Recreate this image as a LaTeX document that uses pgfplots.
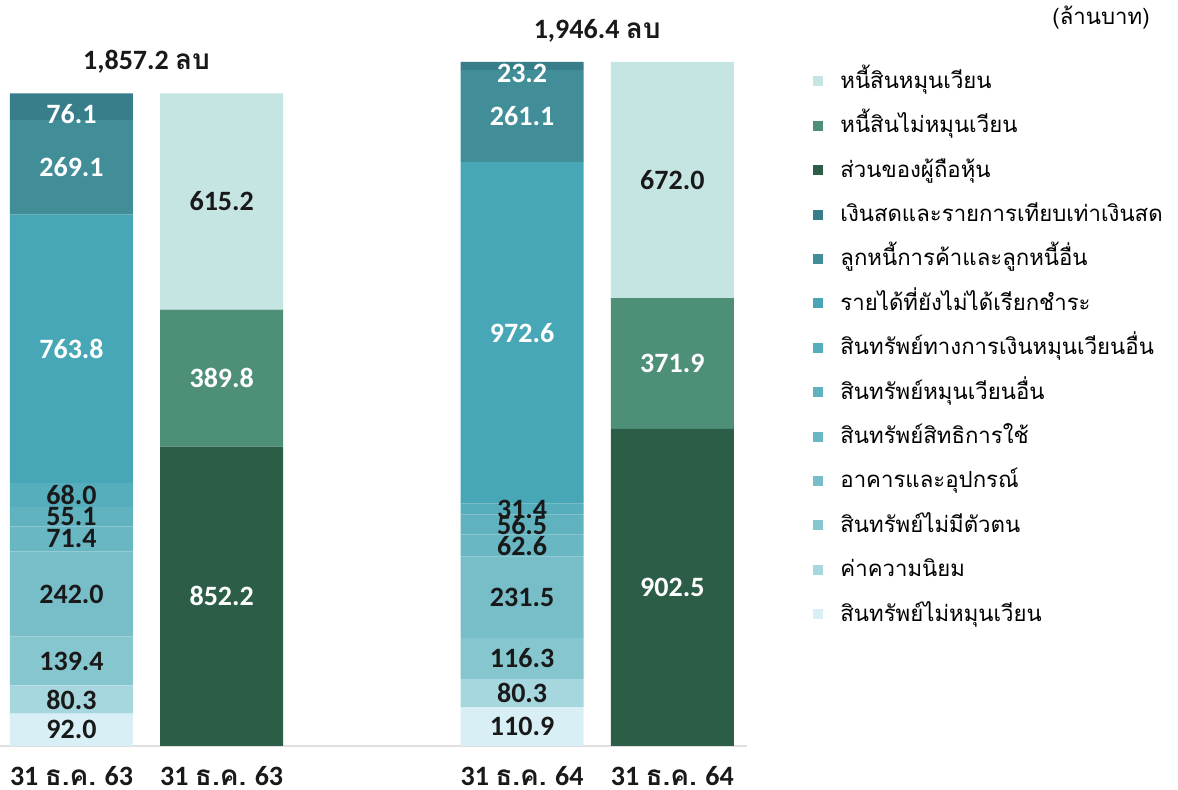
\documentclass[border=0pt]{standalone}
\usepackage{pgfplots}
\pgfplotsset{compat=1.18}
\usepackage{pgfplotstable}
\usepackage{fontspec}
\setmainfont{Carlito}
\newfontfamily\thai[Script=Thai]{Loma}

\definecolor{cCL}{HTML}{C5E5E3}
\definecolor{cNCL}{HTML}{4E8F78}
\definecolor{cEQ}{HTML}{2C5D47}
\definecolor{cCASH}{HTML}{387E8A}
\definecolor{cTRADE}{HTML}{418E99}
\definecolor{cACCR}{HTML}{48A7B6}
\definecolor{cOCFA}{HTML}{56ADBB}
\definecolor{cOCA}{HTML}{60B2BF}
\definecolor{cROU}{HTML}{69B7C3}
\definecolor{cPPE}{HTML}{77BEC9}
\definecolor{cINT}{HTML}{86C6CF}
\definecolor{cGW}{HTML}{A6D7DE}
\definecolor{cNCA}{HTML}{D7EFF5}

\pgfplotstableread{
x nca gw intan ppe rou oca ocfa accr trade cash eq ncl cl
0 92.0 80.3 139.4 242.0 71.4 55.1 68.0 763.8 269.1 76.1 0 0 0
1 0 0 0 0 0 0 0 0 0 0 852.2 389.8 615.2
3 110.9 80.3 116.3 231.5 62.6 56.5 31.4 972.6 261.1 23.2 0 0 0
4 0 0 0 0 0 0 0 0 0 0 902.5 371.9 672.0
}\data

\pgfplotsset{
  seg/.style={fill=#1, draw=none},
  wlab/.style={every node near coord/.append style={text=white}},
}

\begin{document}
\begin{tikzpicture}
\begin{axis}[
  scale only axis,
  width=373.7pt, height=342pt,
  xmin=-0.476, xmax=4.5,
  ymin=0, ymax=1946.4,
  ybar stacked,
  bar width=61.5pt,
  axis y line=none,
  axis x line*=bottom,
  x axis line style={draw=black!12, line width=1pt, -},
  xtick={0,1,3,4},
  xticklabels={{31 {\thai ธ.ค.} 63},{31 {\thai ธ.ค.} 63},{31 {\thai ธ.ค.} 64},{31 {\thai ธ.ค.} 64}},
  major tick length=0pt,
  xticklabel style={font=\bfseries\fontsize{14}{16}\selectfont, text=black!90, anchor=base, yshift=-20pt, inner sep=0pt, text depth=0pt},
  clip=false,
  point meta=explicit,
  /pgf/number format/assume math mode=true,
  nodes near coords={\pgfmathfloatifflags{\pgfplotspointmeta}{0}{}{\pgfmathprintnumber[fixed,precision=1,zerofill,assume math mode=true]{\pgfplotspointmeta}}},
  every node near coord/.append style={font=\bfseries\fontsize{14}{16}\selectfont, text=black!90, anchor=center, inner sep=0pt},
  reverse legend,
  legend cell align=left,
  legend style={
    at={(1.0878,0.9854)}, anchor=north west,
    draw=none, fill=none, inner sep=0pt,
    font=\thai\fontsize{11.1}{13}\selectfont,
    row sep=11.2pt, column sep=8.5pt,
    nodes={inner sep=0pt, text height=8pt, text depth=3pt},
  },
  every axis plot post/.append style={legend image code/.code={\fill (0pt,-1.5pt) rectangle (5pt,3.5pt);}},
]
\addplot[seg=cNCA] table[x=x,y=nca,meta=nca]{\data};
\addlegendentry{สินทรัพย์ไม่หมุนเวียน}
\addplot[seg=cGW] table[x=x,y=gw,meta=gw]{\data};
\addlegendentry{ค่าความนิยม}
\addplot[seg=cINT] table[x=x,y=intan,meta=intan]{\data};
\addlegendentry{สินทรัพย์ไม่มีตัวตน}
\addplot[seg=cPPE] table[x=x,y=ppe,meta=ppe]{\data};
\addlegendentry{อาคารและอุปกรณ์}
\addplot[seg=cROU] table[x=x,y=rou,meta=rou]{\data};
\addlegendentry{สินทรัพย์สิทธิการใช้}
\addplot[seg=cOCA] table[x=x,y=oca,meta=oca]{\data};
\addlegendentry{สินทรัพย์หมุนเวียนอื่น}
\addplot[seg=cOCFA] table[x=x,y=ocfa,meta=ocfa]{\data};
\addlegendentry{สินทรัพย์ทางการเงินหมุนเวียนอื่น}
\addplot[seg=cACCR, wlab] table[x=x,y=accr,meta=accr]{\data};
\addlegendentry{รายได้ที่ยังไม่ได้เรียกชำระ}
\addplot[seg=cTRADE, wlab] table[x=x,y=trade,meta=trade]{\data};
\addlegendentry{ลูกหนี้การค้าและลูกหนี้อื่น}
\addplot[seg=cCASH, wlab, every node near coord/.append style={yshift=-3.5pt}] table[x=x,y=cash,meta=cash]{\data};
\addlegendentry{เงินสดและรายการเทียบเท่าเงินสด}
\addplot[seg=cEQ, wlab] table[x=x,y=eq,meta=eq]{\data};
\addlegendentry{ส่วนของผู้ถือหุ้น}
\addplot[seg=cNCL, wlab] table[x=x,y=ncl,meta=ncl]{\data};
\addlegendentry{หนี้สินไม่หมุนเวียน}
\addplot[seg=cCL] table[x=x,y=cl,meta=cl]{\data};
\addlegendentry{หนี้สินหมุนเวียน}

\node[font=\bfseries\fontsize{14}{16}\selectfont, text=black!90] at (axis cs:0.5,1857.2) [yshift=16pt] {1,857.2 {\thai ลบ}};
\node[font=\bfseries\fontsize{14}{16}\selectfont, text=black!90] at (axis cs:3.5,1946.4) [yshift=15.5pt] {1,946.4 {\thai ลบ}};
\end{axis}
\node[anchor=east, font=\thai\fontsize{11.1}{13}\selectfont, inner sep=0pt] at (575pt,364pt) {(ล้านบาท)};
\pgfresetboundingbox
\path (0pt,-22pt) rectangle (589pt,373pt);
\end{tikzpicture}
\end{document}
